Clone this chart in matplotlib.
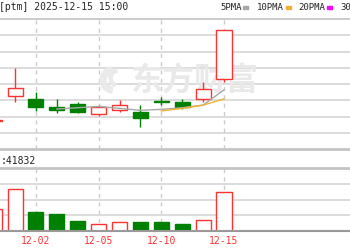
import matplotlib
matplotlib.use("Agg")
import matplotlib.pyplot as plt
from matplotlib.patches import Wedge, Rectangle
from matplotlib.transforms import IdentityTransform

plt.rcParams['font.family'] = ['DejaVu Sans Mono', 'Noto Sans CJK SC']

# 日K数据 (11-28 只露出一半)
dates = ["11-28", "12-01", "12-02", "12-03", "12-04", "12-05",
         "12-08", "12-09", "12-10", "12-11", "12-12", "12-15"]
opens = [20.86, 21.62, 21.54, 21.28, 21.39, 21.09, 21.19, 21.13, 21.48, 21.46, 21.53, 22.15]
closes = [20.89, 21.87, 21.30, 21.19, 21.15, 21.30, 21.35, 20.95, 21.44, 21.30, 21.85, 23.66]
highs = [20.91, 22.48, 21.76, 21.53, 21.46, 21.35, 21.51, 21.35, 21.61, 21.54, 22.05, 23.66]
lows = [20.84, 21.46, 21.17, 21.10, 21.10, 21.03, 21.15, 20.69, 21.35, 21.22, 21.46, 22.05]
volumes = [23460, 45080, 20860, 18050, 10810, 7890, 9400, 9730, 9400, 7240, 11570, 41832]

# 均线 (None = 还没有)
ma5 = [None, None, None, 21.23, 21.27, 21.31, 21.25, 21.19, 21.22, 21.27, 21.35, 21.82]
ma10 = [None, None, None, None, None, None, None, None, 21.17, 21.25, 21.35, 21.54]

tick_dates = ["12-02", "12-05", "12-10", "12-15"]

RED = "#ff3232"
GREEN = "#008000"
GRID = "#d9d9d9"

xs = list(range(-1, len(dates) - 1))
xlim = (-0.72, 16.03)

fig = plt.figure(figsize=(3.5, 2.5), dpi=100)
ax = fig.add_axes([0, 101 / 250, 1, 130 / 250])
axv = fig.add_axes([0, 19 / 250, 1, 63 / 250])

for a in (ax, axv):
    a.set_xlim(*xlim)
    for s in a.spines.values():
        s.set_visible(False)
    a.set_yticks([])
    a.tick_params(length=0)

# --- K线 ---
ax.set_ylim(20, 24)
ax.set_xticks([])
for lv in [20.5, 21, 21.5, 22, 22.5, 23, 23.5]:
    ax.axhline(lv, color=GRID, lw=1.3, zorder=0)
ax.axhline(24, color="#c4c4c4", lw=1.2, zorder=0, clip_on=False)
ax.axhline(20, color="#c4c4c4", lw=2, zorder=0, clip_on=False)

for d in tick_dates:
    i = xs[dates.index(d)]
    ax.axvline(i, color="#cccccc", lw=1, ls=(0, (3, 3)), zorder=0)
    axv.axvline(i, color="#cccccc", lw=1, ls=(0, (3, 3)), zorder=0)

# 水印
ax.text(0.556, 0.52, "东方财富", transform=ax.transAxes, ha="center", va="center",
        fontsize=23, fontweight="bold", color="#e9e9e9", family="Noto Sans CJK SC", zorder=0.5)
ax.add_patch(Wedge((113, 170), 13, 95, 265, width=6, color="#eaeaea",
                   transform=IdentityTransform(), zorder=0.5))
ax.add_patch(Wedge((118, 172), 9, 100, 250, width=3, color="#eaeaea",
                   transform=IdentityTransform(), zorder=0.5))

for x, o, c, h, l in zip(xs, opens, closes, highs, lows):
    up = c >= o
    col = RED if up else GREEN
    lo, hi = min(o, c), max(o, c)
    body = max(hi - lo, 0.02)
    ax.vlines(x, l, lo, color=col, lw=1, zorder=2)
    ax.vlines(x, hi, h, color=col, lw=1, zorder=2)
    ax.bar(x, body, bottom=lo, width=0.72, facecolor="white" if up else GREEN,
           edgecolor=col, lw=1, zorder=3)

def plot_ma(vals, color):
    pts = [(x, v) for x, v in zip(xs, vals) if v is not None]
    ax.plot([p[0] for p in pts], [p[1] for p in pts], color=color, lw=1, zorder=4)

plot_ma(ma5, "#a8a8a8")
plot_ma(ma10, "#f0b030")

# --- 成交量 ---
vmax = 68100
axv.set_ylim(0, vmax)
for k in (1, 2, 3):
    axv.axhline(vmax * k / 4, color=GRID, lw=1.3, zorder=0)
axv.axhline(vmax, color="#c4c4c4", lw=2, zorder=0, clip_on=False)
axv.axhline(0, color="#999999", lw=1.5, zorder=5, clip_on=False)

for x, o, c, v in zip(xs, opens, closes, volumes):
    up = c >= o
    axv.bar(x, v, width=0.72, facecolor="white" if up else GREEN,
            edgecolor=RED if up else GREEN, lw=1, zorder=3)

axv.set_xticks([xs[dates.index(d)] for d in tick_dates])
axv.set_xticklabels(tick_dates, color=RED, fontsize=7)
axv.tick_params(axis="x", pad=3.5)

# 顶部信息
fig.text(-0.003, 1 - 7.5 / 250, "[ptm] 2025-12-15 15:00", fontsize=7, color="#222222",
         va="center", ha="left")
legend_items = [("5PMA", "#a8a8a8", 220), ("10PMA", "#f0b030", 257),
                ("20PMA", "#ff00ff", 298), ("30PMA", "#00a0a0", 340)]
for name, col, px in legend_items:
    fig.text(px / 350, 1 - 7.5 / 250, name, fontsize=6.5, color="#222222",
             va="center", ha="left")
    sw_x = px + len(name) * 5.5 + 1
    fig.patches.append(Rectangle((sw_x / 350, 1 - 9 / 250), 5 / 350, 3 / 250,
                                 transform=fig.transFigure, color=col, figure=fig))

fig.text(0.003, 1 - 160.5 / 250, ":41832", fontsize=7, color="#222222", va="center", ha="left")

fig.savefig("out.png", dpi=100)
